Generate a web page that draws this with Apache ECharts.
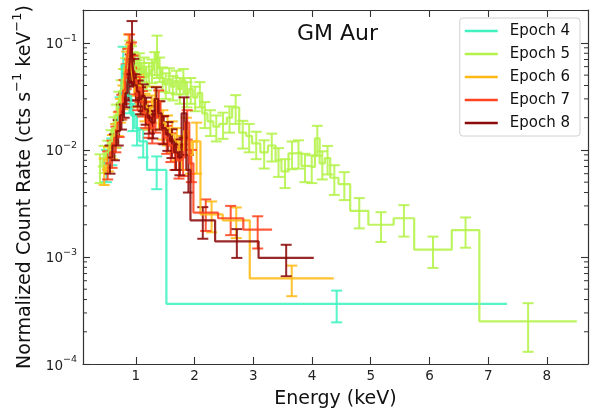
<!DOCTYPE html>
<html>
<head>
<meta charset="utf-8">
<script src="https://cdn.jsdelivr.net/npm/echarts@6/dist/echarts.min.js"></script>
<style>
  html, body { margin: 0; padding: 0; background: #fff; }
  #chart { width: 598px; height: 414px; }
</style>
</head>
<body>
<div id="chart"></div>
<script>
// epochs and colours
const epochNames = ["Epoch 4", "Epoch 5", "Epoch 6", "Epoch 7", "Epoch 8"];
const epochColors = ["#3ff2c0", "#b4f24a", "#ffb914", "#ff4420", "#8b0a0a"];

// axis ticks
const xTicks = [1, 2, 3, 4, 5, 6, 7, 8];
const yMinorTicks = [2e-4, 3e-4, 4e-4, 5e-4, 6e-4, 7e-4, 8e-4, 9e-4,
  2e-3, 3e-3, 4e-3, 5e-3, 6e-3, 7e-3, 8e-3, 9e-3,
  2e-2, 3e-2, 4e-2, 5e-2, 6e-2, 7e-2, 8e-2, 9e-2];

// Epoch 4: bin edges (keV), rate, 1-sigma error
const edges4 = [0.45, 0.55, 0.63, 0.70, 0.76, 0.81, 0.86, 0.92, 0.98, 1.06, 1.19, 1.52, 7.32];
const rate4 = [0.0075, 0.010, 0.014, 0.025, 0.062, 0.045, 0.032, 0.021, 0.016, 0.012, 0.0065, 0.000365];
const sig4 = [0.0025, 0.0028, 0.0035, 0.006, 0.03, 0.015, 0.01, 0.006, 0.005, 0.0035, 0.0022, 0.00012];

// Epoch 5
const edges5 = [0.35, 0.43, 0.49, 0.55, 0.60, 0.65, 0.69, 0.73, 0.77, 0.81,
  0.85, 0.88, 0.91, 0.94, 0.97, 1.00, 1.04, 1.08, 1.12, 1.16,
  1.20, 1.25, 1.30, 1.34, 1.38, 1.43, 1.48, 1.54, 1.60, 1.66,
  1.72, 1.78, 1.84, 1.90, 1.97, 2.05, 2.13, 2.22, 2.32, 2.42,
  2.55, 2.64, 2.76, 2.88, 2.98, 3.12, 3.25, 3.38, 3.48, 3.60,
  3.72, 3.82, 3.94, 4.05, 4.13, 4.22, 4.31, 4.45, 4.65, 4.96,
  5.39, 5.74, 6.38, 6.85, 8.51];
const rate5 = [0.0070, 0.0085, 0.0095, 0.012, 0.016, 0.021, 0.028, 0.036, 0.046, 0.058,
  0.072, 0.085, 0.075, 0.066, 0.060, 0.055, 0.064, 0.052, 0.058, 0.048,
  0.052, 0.056, 0.066, 0.082, 0.058, 0.047, 0.041, 0.046, 0.039, 0.044,
  0.037, 0.045, 0.034, 0.037, 0.031, 0.034, 0.022, 0.0185, 0.0165, 0.0175,
  0.020, 0.025, 0.0145, 0.0135, 0.0115, 0.0095, 0.011, 0.0080, 0.0063, 0.0093,
  0.0095, 0.0071, 0.0069, 0.0128, 0.0075, 0.0084, 0.0055, 0.0048, 0.0027, 0.0020,
  0.0023, 0.00117, 0.00178, 0.00025];
const sig5 = [0.0021, 0.0024, 0.0027, 0.0033, 0.0042, 0.0055, 0.0070, 0.0088, 0.011, 0.014,
  0.017, 0.020, 0.018, 0.016, 0.015, 0.014, 0.016, 0.013, 0.015, 0.012,
  0.013, 0.014, 0.016, 0.035, 0.015, 0.012, 0.011, 0.012, 0.010, 0.011,
  0.010, 0.012, 0.009, 0.010, 0.008, 0.009, 0.006, 0.005, 0.0045, 0.0048,
  0.0055, 0.0075, 0.0042, 0.0040, 0.0033, 0.0028, 0.0032, 0.0024, 0.0019, 0.0027,
  0.0028, 0.0021, 0.0020, 0.0040, 0.0022, 0.0025, 0.0017, 0.0014, 0.00085, 0.00062,
  0.00075, 0.00038, 0.00056, 0.00012];

// Epoch 6
const edges6 = [0.42, 0.50, 0.57, 0.63, 0.68, 0.72, 0.76, 0.80, 0.83, 0.86,
  0.89, 0.92, 0.95, 0.99, 1.03, 1.08, 1.13, 1.18, 1.24, 1.30,
  1.36, 1.42, 1.50, 1.58, 1.66, 1.74, 1.82, 1.90, 1.97, 2.10,
  2.48, 2.94, 4.37];
const rate6 = [0.0065, 0.0085, 0.011, 0.014, 0.018, 0.024, 0.032, 0.045, 0.065, 0.090,
  0.075, 0.060, 0.045, 0.035, 0.040, 0.030, 0.026, 0.022, 0.025, 0.030,
  0.022, 0.018, 0.016, 0.014, 0.012, 0.010, 0.015, 0.009, 0.012, 0.0025,
  0.0022, 0.00063];
const sig6 = [0.0018, 0.0022, 0.0028, 0.0035, 0.0045, 0.006, 0.008, 0.012, 0.018, 0.030,
  0.022, 0.017, 0.013, 0.010, 0.011, 0.0085, 0.0075, 0.0065, 0.0072, 0.009,
  0.0065, 0.0055, 0.005, 0.0045, 0.004, 0.0035, 0.005, 0.003, 0.006, 0.0008,
  0.0007, 0.0002];

// Epoch 7
const edges7 = [0.48, 0.56, 0.63, 0.69, 0.74, 0.78, 0.82, 0.85, 0.88, 0.91,
  0.94, 0.97, 1.01, 1.05, 1.09, 1.14, 1.19, 1.25, 1.31, 1.36,
  1.42, 1.49, 1.56, 1.63, 1.70, 1.77, 1.84, 1.91, 1.98, 2.40,
  2.83, 3.32];
const rate7 = [0.0075, 0.0095, 0.013, 0.018, 0.026, 0.036, 0.050, 0.070, 0.095, 0.080,
  0.060, 0.045, 0.032, 0.038, 0.028, 0.022, 0.018, 0.016, 0.020, 0.028,
  0.016, 0.013, 0.011, 0.0095, 0.008, 0.0085, 0.018, 0.0075, 0.0026, 0.0023,
  0.0018];
const sig7 = [0.0022, 0.0027, 0.0035, 0.0048, 0.0068, 0.009, 0.013, 0.018, 0.025, 0.021,
  0.016, 0.012, 0.0085, 0.010, 0.0075, 0.006, 0.005, 0.0045, 0.0055, 0.008,
  0.0045, 0.0038, 0.0033, 0.003, 0.0026, 0.0028, 0.0055, 0.0025, 0.00085, 0.0007,
  0.0006];

// Epoch 8
const edges8 = [0.52, 0.60, 0.67, 0.73, 0.78, 0.82, 0.86, 0.89, 0.92, 0.95,
  0.98, 1.02, 1.06, 1.10, 1.15, 1.20, 1.26, 1.32, 1.38, 1.44,
  1.51, 1.58, 1.65, 1.72, 1.78, 1.86, 1.93, 2.35, 3.09, 4.03];
const rate8 = [0.0085, 0.011, 0.015, 0.021, 0.027, 0.034, 0.040, 0.060, 0.10, 0.055,
  0.040, 0.035, 0.030, 0.032, 0.024, 0.020, 0.018, 0.030, 0.022, 0.016,
  0.014, 0.012, 0.0095, 0.0085, 0.022, 0.0065, 0.0022, 0.0014, 0.00098];
const sig8 = [0.0025, 0.003, 0.004, 0.0055, 0.007, 0.009, 0.011, 0.018, 0.06, 0.016,
  0.011, 0.0095, 0.0085, 0.009, 0.0068, 0.0058, 0.0052, 0.0085, 0.0065, 0.0047,
  0.0042, 0.0036, 0.003, 0.0027, 0.009, 0.0025, 0.00072, 0.00042, 0.00032];

const epochEdges = [edges4, edges5, edges6, edges7, edges8];
const epochRates = [rate4, rate5, rate6, rate7, rate8];
const epochSigs = [sig4, sig5, sig6, sig7, sig8];

const FONT = "DejaVu Sans";
const AXIS_COLOR = "#333";
const ALPHA = 0.88;

var chart = echarts.init(document.getElementById("chart"));

// step outline: each bin drawn flat from its lower edge to the next edge
function stepData(edges, rates) {
  var d = rates.map(function (r, i) { return [edges[i], r]; });
  d.push([edges[edges.length - 1], rates[rates.length - 1]]);
  return d;
}

function errData(edges, rates, sigs) {
  return rates.map(function (r, i) { return [(edges[i] + edges[i + 1]) / 2, r, sigs[i]]; });
}

function errRenderer(color) {
  return function (params, api) {
    var c = api.value(0), v = api.value(1), s = api.value(2);
    var hi = api.coord([c, v + s]);
    var lo = api.coord([c, v - s]);
    var w = 5.5;
    var st = { stroke: color, lineWidth: 2, opacity: ALPHA };
    return {
      type: "group",
      children: [
        { type: "line", shape: { x1: hi[0], y1: hi[1], x2: lo[0], y2: lo[1] }, style: st },
        { type: "line", shape: { x1: hi[0] - w, y1: hi[1], x2: hi[0] + w, y2: hi[1] }, style: st },
        { type: "line", shape: { x1: lo[0] - w, y1: lo[1], x2: lo[0] + w, y2: lo[1] }, style: st }
      ]
    };
  };
}

var series = [];
epochNames.forEach(function (name, k) {
  var color = epochColors[k];
  series.push({
    type: "line",
    name: name,
    data: stepData(epochEdges[k], epochRates[k]),
    step: "end",
    symbol: "none",
    color: color,
    lineStyle: { width: 2.2, color: color, opacity: ALPHA },
    clip: true
  });
  series.push({
    type: "custom",
    name: name,
    data: errData(epochEdges[k], epochRates[k], epochSigs[k]),
    dimensions: ["x", "y", "err"],
    encode: { x: 0, y: 1 },
    color: color,
    renderItem: errRenderer(color),
    clip: true
  });
});

// minor ticks of the log axis, on both sides
series.push({
  type: "custom",
  silent: true,
  data: yMinorTicks.map(function (v) { return [1, v]; }),
  encode: { x: 0, y: 1 },
  clip: false,
  renderItem: function (params, api) {
    var p = api.coord([api.value(0), api.value(1)]);
    var cs = params.coordSys;
    var st = { stroke: AXIS_COLOR, lineWidth: 1 };
    return {
      type: "group",
      children: [
        { type: "line", shape: { x1: cs.x, y1: p[1], x2: cs.x + 4, y2: p[1] }, style: st },
        { type: "line", shape: { x1: cs.x + cs.width - 4, y1: p[1], x2: cs.x + cs.width, y2: p[1] }, style: st }
      ]
    };
  }
});

var axisLine = { show: true, onZero: false, lineStyle: { color: AXIS_COLOR, width: 1.2 } };
var tickStyle = { color: AXIS_COLOR, width: 1.1 };

function powLabel(v) {
  var l = Math.log10(v);
  var e = Math.round(l);
  if (Math.abs(l - e) > 0.01) return "";
  return "{b|10}{s|\u2212" + (-e) + "}";
}

var option = {
  animation: false,
  backgroundColor: "#fff",
  grid: { left: 83, right: 10, top: 10, bottom: 46 },
  graphic: [{
    type: "text",
    x: 337.5,
    y: 34,
    style: { text: "GM Aur", fontFamily: FONT, fontSize: 22, fill: "#111", align: "center", verticalAlign: "middle" }
  }],
  legend: {
    data: epochNames,
    orient: "vertical",
    right: 18,
    top: 18,
    icon: "rect",
    itemWidth: 33,
    itemHeight: 2.5,
    itemGap: 7,
    padding: [5, 10, 5, 5],
    borderColor: "#d0d0d0",
    borderWidth: 1,
    borderRadius: 3,
    backgroundColor: "rgba(255,255,255,0.85)",
    textStyle: { fontFamily: FONT, fontSize: 15, color: "#111", lineHeight: 16, padding: [0, 0, 0, 7] }
  },
  xAxis: [{
    type: "value",
    min: 0.1,
    max: 8.7,
    position: "bottom",
    axisLine: axisLine,
    axisTick: { show: true, inside: true, length: 7, customValues: xTicks, lineStyle: tickStyle },
    axisLabel: { customValues: xTicks, margin: 5, fontFamily: FONT, fontSize: 13.5, color: "#222" },
    splitLine: { show: false },
    name: "Energy (keV)",
    nameLocation: "middle",
    nameGap: 26,
    nameTextStyle: { fontFamily: FONT, fontSize: 19, color: "#111" }
  }, {
    type: "value",
    min: 0.1,
    max: 8.7,
    position: "top",
    axisLine: axisLine,
    axisTick: { show: true, inside: true, length: 7, customValues: xTicks, lineStyle: tickStyle },
    axisLabel: { show: false },
    splitLine: { show: false }
  }],
  yAxis: [{
    type: "log",
    logBase: 10,
    min: 1e-4,
    max: 0.203,
    position: "left",
    axisLine: axisLine,
    axisTick: { show: true, inside: true, length: 7, lineStyle: tickStyle },
    axisLabel: {
      margin: 6,
      formatter: powLabel,
      rich: {
        b: { fontFamily: FONT, fontSize: 13.5, color: "#222", lineHeight: 18, verticalAlign: "bottom" },
        s: { fontFamily: FONT, fontSize: 9.5, color: "#222", lineHeight: 10, verticalAlign: "top" }
      }
    },
    splitLine: { show: false },
    name: "{a|Normalized Count Rate (cts s}{s|\u22121}{a| keV}{s|\u22121}{a|)}",
    nameLocation: "middle",
    nameGap: 46,
    nameTextStyle: {
      rich: {
        a: { fontFamily: FONT, fontSize: 19, color: "#111", lineHeight: 24, verticalAlign: "bottom" },
        s: { fontFamily: FONT, fontSize: 13, color: "#111", lineHeight: 14, verticalAlign: "top" }
      }
    }
  }, {
    type: "log",
    logBase: 10,
    min: 1e-4,
    max: 0.203,
    position: "right",
    axisLine: axisLine,
    axisTick: { show: true, inside: true, length: 7, lineStyle: tickStyle },
    axisLabel: { show: false },
    splitLine: { show: false }
  }],
  series: series
};

chart.setOption(option);
</script>
</body>
</html>
